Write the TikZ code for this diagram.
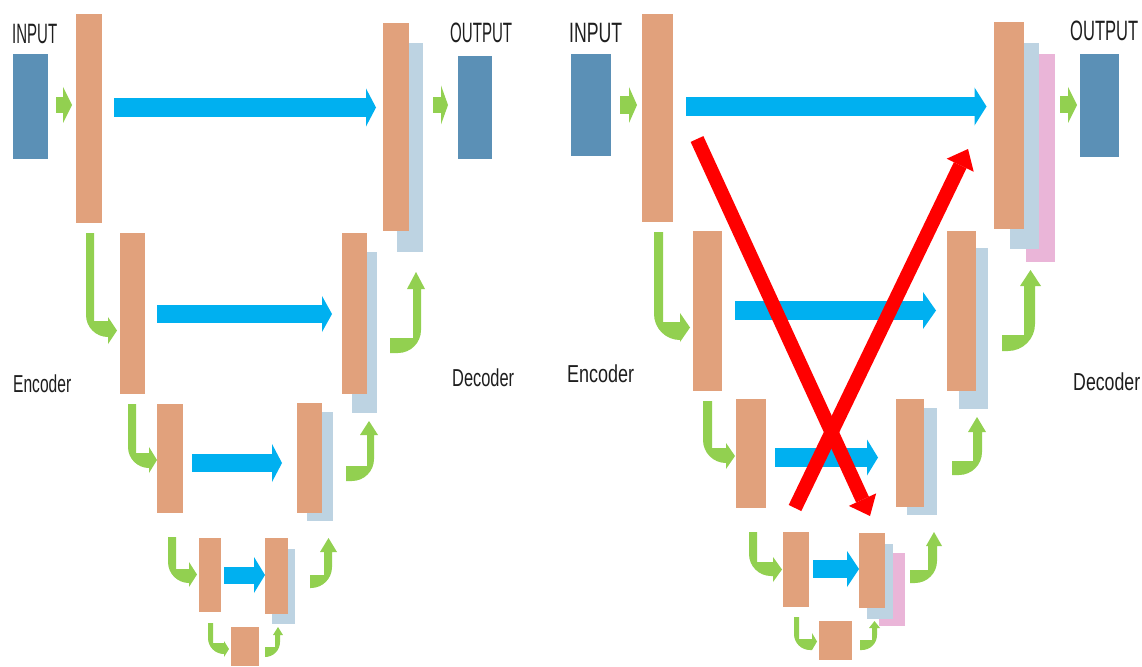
\documentclass[tikz,border=0pt]{standalone}
\usepackage{fontspec}
\setmainfont{Liberation Sans}
\usetikzlibrary{arrows.meta}

\definecolor{encfill}{HTML}{E1A17C}
\definecolor{catblue}{HTML}{BDD3E2}
\definecolor{catpink}{HTML}{EAB5D8}
\definecolor{iofill}{HTML}{5B90B6}
\definecolor{skipblue}{HTML}{00B0F0}
\definecolor{flowgreen}{HTML}{92D050}
\definecolor{crossred}{HTML}{FF0000}
\definecolor{labelgray}{HTML}{1E1E1E}

% squeeze a label horizontally to a given width (in pt)
\newlength\fitlen
\newcommand\fitto[2]{\settowidth\fitlen{#2}\pgfmathsetmacro\fitratio{#1/\fitlen}\scalebox{\fitratio}[1]{#2}}

% block from its corners: style, name, x1, y1, x2, y2
\newcommand\blk[6]{\node[#1,minimum width={(#5-#3)*1pt},minimum height={(#6-#4)*1pt}] (#2) at ({(#3+#5)/2},{(#4+#6)/2}) {};}

% bent arrow, down then right: x0 x1 y0 ys yb xh xt yh1 yh2
\newcommand\bentdown[9]{%
  \pgfmathsetmacro\bendr{min((#5-#4)+(#2-#1),#6-#1)}%
  \fill[flowgreen] (#1,#3) -- (#2,#3) -- (#2,#4) -- (#6,#4) -- (#6,#8)
    -- (#7,{(#8+#9)/2}) -- (#6,#9) -- (#6,#5)
    -- ({#1+\bendr},#5)
    .. controls ({#1+0.448*\bendr},#5) and (#1,{#5-0.448*\bendr})
    .. (#1,{#5-\bendr}) -- cycle;}

% bent arrow, right then up: x0 ys yb x1 x2 yh yt xh1 xh2
\newcommand\bentup[9]{%
  \pgfmathsetmacro\bendr{min((#3-#2)+(#5-#4),#5-#1)}%
  \fill[flowgreen] (#1,#2) -- (#4,#2) -- (#4,#6) -- (#8,#6)
    -- ({(#8+#9)/2},#7) -- (#9,#6) -- (#5,#6)
    -- (#5,{#3-\bendr})
    .. controls (#5,{#3-0.448*\bendr}) and ({#5-0.448*\bendr},#3)
    .. ({#5-\bendr},#3) -- (#1,#3) -- cycle;}

\tikzset{
  box/.style={rectangle,draw=none,inner sep=0pt,outer sep=0pt},
  enc/.style={box,fill=encfill},
  cat/.style={box,fill=catblue},
  att/.style={box,fill=catpink},
  io/.style={box,fill=iofill},
  skip/.style n args={3}{draw=skipblue,line width=#1,line cap=butt,
    -{Triangle[width=#2,length=#3,line width=0pt]}},
  flow/.style n args={3}{draw=flowgreen,line width=#1,line cap=butt,
    -{Triangle[width=#2,length=#3,line width=0pt]}},
  cross/.style={draw=crossred,line width=14pt,line cap=butt,
    -{Triangle[width=30pt,length=18pt,line width=0pt]}},
  iolabel/.style={anchor=base west,inner sep=0pt,text=labelgray,
    font=\fontsize{28}{30}\selectfont},
  partlabel/.style={anchor=base west,inner sep=0pt,text=labelgray,
    font=\fontsize{24.5}{27}\selectfont}
}

\begin{document}
\begin{tikzpicture}[x=1pt,y=-1pt]
\useasboundingbox[fill=white] (0,0) rectangle (1142,666);

% ---------------- plain U-Net ----------------
\blk{io}{Lin}{13}{54}{48}{159}
\blk{enc}{Le1}{76}{14}{102}{223}
\blk{cat}{Lc1}{397}{43}{423}{252}
\blk{enc}{Ld1}{383}{23}{409}{231}
\blk{io}{Lout}{458}{56}{492}{159}
\blk{enc}{Le2}{120}{233}{145}{394}
\blk{cat}{Lc2}{352}{252}{377}{413}
\blk{enc}{Ld2}{342}{233}{367}{394}
\blk{enc}{Le3}{157}{404}{183}{513}
\blk{cat}{Lc3}{307}{412}{333}{521}
\blk{enc}{Ld3}{297}{403}{322}{513}
\blk{enc}{Le4}{199}{538}{221}{612}
\blk{cat}{Lc4}{272}{549}{295}{624}
\blk{enc}{Ld4}{265}{538}{288}{614}
\blk{enc}{Lb}{231}{627}{259}{666}

\node[iolabel] (LinT) at (12,44) {\fitto{45}{INPUT}};
\node[iolabel] (LoutT) at (450,43) {\fitto{62}{OUTPUT}};
\node[partlabel] (LencT) at (13,392) {\fitto{58}{Encoder}};
\node[partlabel] (LdecT) at (452,386) {\fitto{62}{Decoder}};

% input / output flow
\draw[flow={16pt}{36pt}{9pt},shorten <=8pt,shorten >=4pt] (Lin.east |- 0,105) -- (Le1.west |- 0,105);
\draw[flow={16pt}{39pt}{7pt},shorten <=10pt,shorten >=10pt] (Lc1.east |- 0,105) -- (Lout.west |- 0,105);

% skip connections
\draw[skip={19pt}{38pt}{10pt},shorten <=12pt,shorten >=7pt] (Le1.east |- 0,107.5) -- (Ld1.west |- 0,107.5);
\draw[skip={18pt}{36pt}{10pt},shorten <=12pt,shorten >=10pt] (Le2.east |- 0,314) -- (Ld2.west |- 0,314);
\draw[skip={18pt}{38pt}{10pt},shorten <=9pt,shorten >=15pt] (Le3.east |- 0,463) -- (Ld3.west |- 0,463);
\draw[skip={17pt}{36pt}{11pt},shorten <=3pt] (Le4.east |- 0,575) -- (Ld4.west |- 0,575);

% downsampling
\bentdown{86}{94}{233}{321}{337}{108}{117}{317}{344}
\bentdown{128}{136}{404}{453}{468}{149}{157}{447}{473}
\bentdown{168}{176}{537}{569}{583}{189}{197}{562}{587}
\bentdown{208}{213}{623}{643}{654}{224}{229}{641}{657}
% upsampling
\bentup{390}{338}{353}{413}{421}{289}{272}{407}{425}
\bentup{346}{466}{481}{367}{374}{435}{421}{360}{378}
\bentup{310}{575}{588}{324}{332}{552}{538}{320}{337}
\bentup{265}{647}{657}{275}{280}{635}{627}{273}{283}

% ---------------- U-Net with extra branch ----------------
\blk{io}{Rin}{571}{54}{611}{156}
\blk{enc}{Re1}{642}{14}{673}{222}
\blk{att}{Ra1}{1026}{54}{1055}{262}
\blk{cat}{Rc1}{1010}{43}{1039}{249}
\blk{enc}{Rd1}{994}{22}{1024}{229}
\blk{io}{Rout}{1080}{54}{1119}{157}
\blk{enc}{Re2}{693}{231}{722}{391}
\blk{cat}{Rc2}{959}{248}{988}{409}
\blk{enc}{Rd2}{947}{231}{976}{391}
\blk{enc}{Re3}{736}{399}{766}{508}
\blk{cat}{Rc3}{907}{408}{937}{515}
\blk{enc}{Rd3}{896}{399}{924}{507}
\blk{enc}{Re4}{783}{532}{809}{607}
\blk{att}{Ra4}{879}{553}{905}{626}
\blk{cat}{Rc4}{867}{544}{893}{619}
\blk{enc}{Rd4}{859}{533}{885}{608}
\blk{enc}{Rb}{819}{621}{852}{660}

\node[iolabel] (RinT) at (569,43) {\fitto{53}{INPUT}};
\node[iolabel] (RoutT) at (1070,41) {\fitto{68}{OUTPUT}};
\node[partlabel] (RencT) at (567,382) {\fitto{67}{Encoder}};
\node[partlabel] (RdecT) at (1073,390) {\fitto{67}{Decoder}};

\draw[flow={18pt}{36pt}{8pt},shorten <=9pt,shorten >=5pt] (Rin.east |- 0,105) -- (Re1.west |- 0,105);
\draw[flow={17pt}{36pt}{9pt},shorten <=5pt,shorten >=3pt] (Ra1.east |- 0,105) -- (Rout.west |- 0,105);

\draw[skip={19pt}{38pt}{12pt},shorten <=13pt,shorten >=7.5pt] (Re1.east |- 0,106.5) -- (Rd1.west |- 0,106.5);
\draw[skip={19pt}{37pt}{13pt},shorten <=13pt,shorten >=11pt] (Re2.east |- 0,310.5) -- (Rd2.west |- 0,310.5);
\draw[skip={19pt}{36pt}{11pt},shorten <=9pt,shorten >=18pt] (Re3.east |- 0,457.5) -- (Rd3.west |- 0,457.5);
\draw[skip={18pt}{36pt}{12pt},shorten <=4pt] (Re4.east |- 0,569) -- (Rd4.west |- 0,569);

\bentdown{654}{663}{232}{322}{340}{680}{690}{313}{342}
\bentdown{703}{712}{401}{448}{463}{726}{735}{443}{469}
\bentdown{749}{757}{532}{562}{576}{773}{782}{557}{582}
\bentdown{794}{799}{617}{639}{650}{812}{817}{633}{650}
\bentup{1002}{335}{351}{1024}{1035}{286}{270}{1020}{1041}
\bentup{952}{461}{475}{973}{982}{432}{417}{968}{986}
\bentup{910}{570}{583}{928}{937}{546}{532}{926}{942}
\bentup{860}{640}{650}{872}{877}{628}{621}{869}{880}

% crossed-out shortcuts
\coordinate (xa) at (697,139);
\coordinate (xb) at (870,516);
\coordinate (ya) at (795,508);
\coordinate (yb) at (968,149);
\draw[cross] (xa) -- (xb);
\draw[cross] (ya) -- (yb);
\end{tikzpicture}
\end{document}
